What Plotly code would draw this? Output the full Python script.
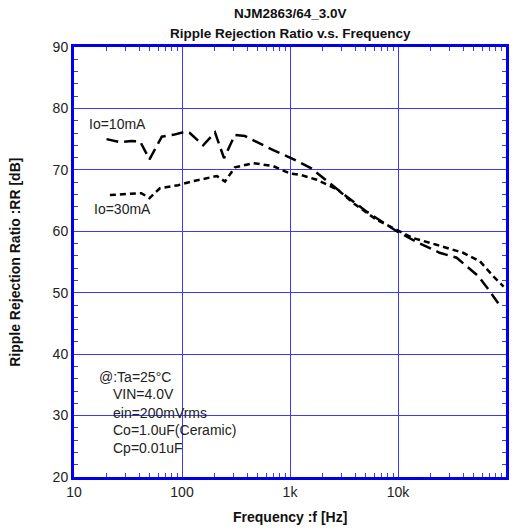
import plotly.graph_objects as go

# Io=10mA
f10 = [20, 27, 34, 41, 50, 58, 65, 83, 107, 118, 157, 202, 217, 245, 309, 383, 700, 1000,
       1560, 2040, 2900, 5130, 9720, 14800, 24300, 34900, 41700, 55400, 71000, 84700]
rr10 = [75.0, 74.5, 74.7, 74.6, 71.7, 73.8, 75.4, 75.7, 76.2, 76.0, 74.0, 76.1, 74.6, 71.9,
        75.7, 75.5, 73.2, 72.0, 70.3, 68.6, 66.5, 63.2, 60.0, 58.3, 56.5, 55.7, 54.6, 52.7, 50.2, 48.3]
# Io=30mA
f30 = [21.5, 42, 50, 62.5, 92, 123, 210, 250, 309, 457, 700, 1000, 1240, 1770, 2800, 3850,
       6300, 9720, 13800, 22700, 40000, 57500, 76000, 95000]
rr30 = [65.9, 66.2, 65.4, 67.0, 67.5, 68.1, 69.0, 68.1, 70.4, 71.1, 70.6, 69.4, 69.2, 68.4,
        66.7, 64.6, 61.9, 60.2, 58.9, 57.8, 56.5, 55.1, 52.7, 51.0]

xtickvals = [10, 100, 1000, 10000, 100000]
xticktext = ["10", "100", "1k", "10k", "100k"]
ytickvals = [20, 30, 40, 50, 60, 70, 80, 90]

cond_lines = ["@:Ta=25\u00b0C", "VIN=4.0V", "ein=200mVrms", "Co=1.0uF(Ceramic)", "Cp=0.01uF"]

BLUE = "#0000ee"
GRID = "#3a3aff"
FONT = "Liberation Sans, Arial, sans-serif"
TXT = "#222222"

fig = go.Figure()
fig.add_trace(go.Scatter(x=f10, y=rr10, mode="lines",
                         line=dict(color="black", width=2.5, dash="12px,6px"), name="Io=10mA"))
fig.add_trace(go.Scatter(x=f30, y=rr30, mode="lines",
                         line=dict(color="black", width=2.5, dash="6px,4px"), name="Io=30mA"))

fig.update_xaxes(type="log", range=[1, 5], tickvals=xtickvals, ticktext=xticktext,
                 showline=True, linecolor=BLUE, linewidth=3, mirror="allticks",
                 showgrid=True, gridcolor=GRID, gridwidth=1,
                 ticks="inside", ticklen=7, tickcolor=GRID, tickwidth=1,
                 minor=dict(ticks="inside", ticklen=4, tickcolor=GRID, tickwidth=1, showgrid=False,
                            tickvals=[m * 10 ** d for d in range(1, 5) for m in range(2, 10)]),
                 tickfont=dict(size=14, color=TXT, family=FONT),
                 automargin=False, zeroline=False)
fig.update_yaxes(range=[20, 90], tickvals=ytickvals,
                 showline=True, linecolor=BLUE, linewidth=3, mirror="allticks",
                 showgrid=True, gridcolor=GRID, gridwidth=1,
                 ticks="inside", ticklen=7, tickcolor=GRID, tickwidth=1,
                 minor=dict(ticks="inside", ticklen=4, tickcolor=GRID, tickwidth=1, showgrid=False,
                            tickvals=list(range(22, 90, 2))),
                 tickfont=dict(size=14, color=TXT, family=FONT),
                 automargin=False, zeroline=False)

# white box behind the conditions text
fig.add_shape(type="rect", xref="paper", yref="paper", x0=0.0, x1=0.38, y0=0.047, y1=0.265,
              fillcolor="white", line=dict(width=0), layer="between")

ys = [0.233, 0.192, 0.149, 0.109, 0.068]
xs = [0.0525, 0.085, 0.085, 0.085, 0.085]
for t, x, y in zip(cond_lines, xs, ys):
    fig.add_annotation(text=t, xref="paper", yref="paper", x=x, y=y, xanchor="left", yanchor="middle",
                       showarrow=False, font=dict(size=14, color=TXT, family=FONT))

fig.add_annotation(text="Io=10mA", x=1.12, y=77.4, xanchor="left", yanchor="middle", showarrow=False,
                   font=dict(size=14, color=TXT, family=FONT))
fig.add_annotation(text="Io=30mA", x=1.165, y=63.6, xanchor="left", yanchor="middle", showarrow=False,
                   font=dict(size=14, color=TXT, family=FONT))

# titles
fig.add_annotation(text="<b>NJM2863/64_3.0V</b>", xref="paper", yref="paper", x=0.5, y=1.078,
                   xanchor="center", yanchor="middle", showarrow=False,
                   font=dict(size=13.5, color="#111", family=FONT))
fig.add_annotation(text="<b>Ripple Rejection Ratio v.s. Frequency</b>", xref="paper", yref="paper",
                   x=0.5, y=1.031, xanchor="center", yanchor="middle", showarrow=False,
                   font=dict(size=13.5, color="#111", family=FONT))
fig.add_annotation(text="<b>Frequency :f [Hz]</b>", xref="paper", yref="paper", x=0.5, y=-0.093,
                   xanchor="center", yanchor="middle", showarrow=False,
                   font=dict(size=14, color="#111", family=FONT))
fig.add_annotation(text="<b>Ripple Rejection Ratio :RR [dB]</b>", xref="paper", yref="paper",
                   x=-0.137, y=0.5, xanchor="center", yanchor="middle", textangle=-90, showarrow=False,
                   font=dict(size=14, color="#111", family=FONT))

fig.update_layout(
    width=521, height=529,
    margin=dict(l=74, r=15, t=47, b=52, autoexpand=False),
    paper_bgcolor="white", plot_bgcolor="white",
    showlegend=False,
)

fig.write_html("out.html", config={"displayModeBar": False},
               post_script="document.body.style.margin='0px';document.body.style.overflow='hidden';")
